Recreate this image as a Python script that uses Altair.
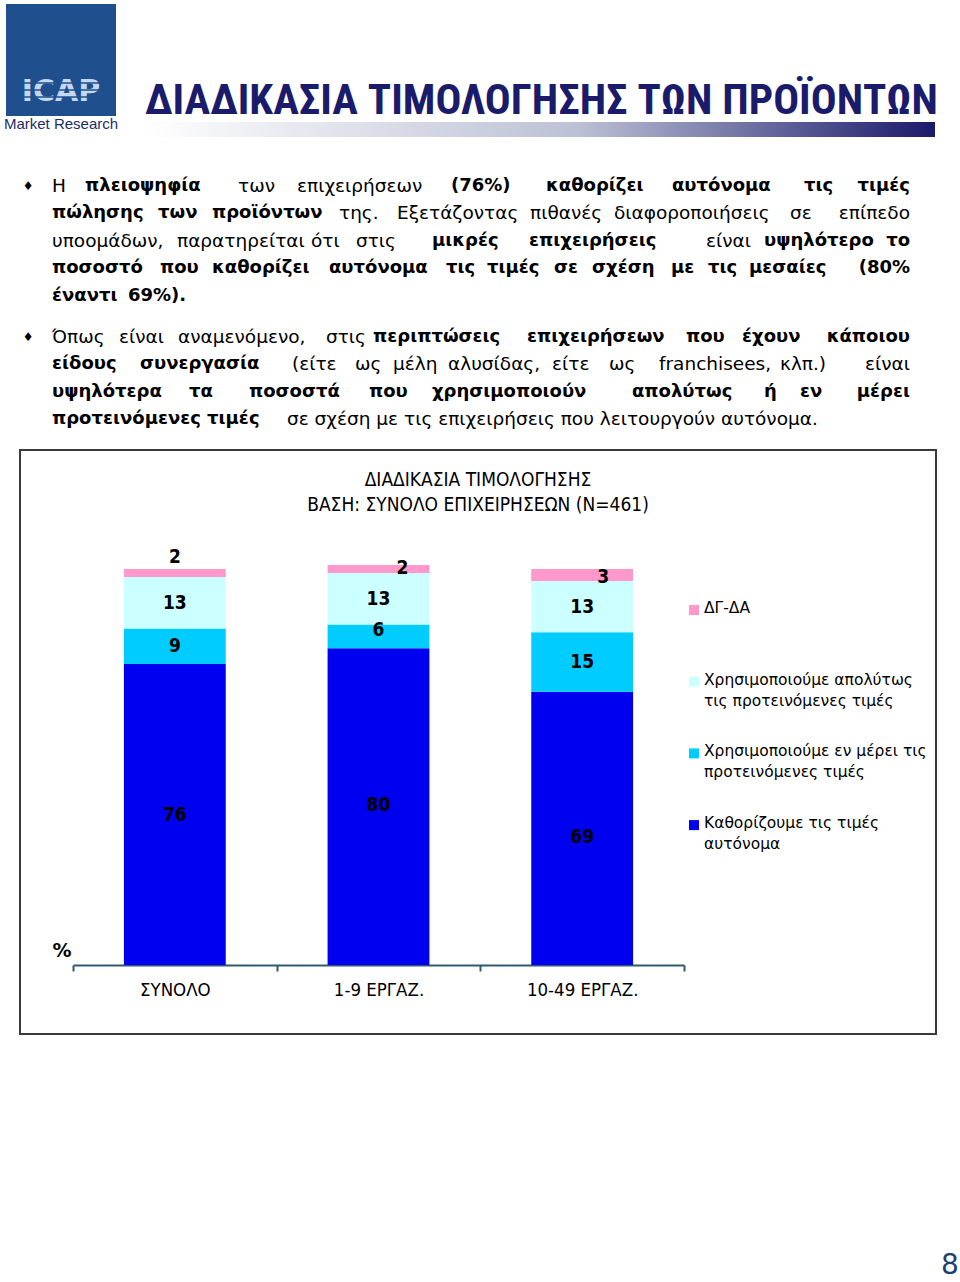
import altair as alt
import pandas as pd

# ---------------- chart data ----------------
categories = ["ΣΥΝΟΛΟ", "1-9 ΕΡΓΑΖ.", "10-49 ΕΡΓΑΖ."]
series = [
    "Καθορίζουμε τις τιμές αυτόνομα",
    "Χρησιμοποιούμε εν μέρει τις προτεινόμενες τιμές",
    "Χρησιμοποιούμε απολύτως τις προτεινόμενες τιμές",
    "ΔΓ-ΔΑ",
]
autonomous = [76, 80, 69]
partial = [9, 6, 15]
absolute = [13, 13, 13]
dk_na = [2, 2, 3]
colors = ["#0000F0", "#00CCFF", "#CCFFFF", "#FF99CC"]
legend_labels = [
    "ΔΓ-ΔΑ",
    "Χρησιμοποιούμε απολύτως|τις προτεινόμενες τιμές",
    "Χρησιμοποιούμε εν μέρει τις|προτεινόμενες τιμές",
    "Καθορίζουμε τις τιμές|αυτόνομα",
]
legend_series = [series[3], series[2], series[1], series[0]]

# ---------------- page text ----------------
page_title = "ΔΙΑΔΙΚΑΣΙΑ ΤΙΜΟΛΟΓΗΣΗΣ ΤΩΝ ΠΡΟΪΟΝΤΩΝ"
chart_title_1 = "ΔΙΑΔΙΚΑΣΙΑ ΤΙΜΟΛΟΓΗΣΗΣ"
chart_title_2 = "ΒΑΣΗ: ΣΥΝΟΛΟ ΕΠΙΧΕΙΡΗΣΕΩΝ (N=461)"

# words: (text, bold, left x or None = right-aligned at the text margin)
para_lines = [
    (186, [("Η", 0, 52), ("πλειοψηφία", 1, 85), ("των", 0, 238), ("επιχειρήσεων", 0, 297),
           ("(76%)", 1, 451), ("καθορίζει", 1, 546), ("αυτόνομα", 1, 672), ("τις", 1, 804), ("τιμές", 1, None)]),
    (213, [("πώλησης", 1, 52), ("των", 1, 158), ("προϊόντων", 1, 212), ("της.", 0, 339),
           ("Εξετάζοντας", 0, 397), ("πιθανές", 0, 530), ("διαφοροποιήσεις", 0, 614), ("σε", 0, 790),
           ("επίπεδο", 0, None)]),
    (241, [("υποομάδων,", 0, 52), ("παρατηρείται", 0, 177), ("ότι", 0, 311), ("στις", 0, 356),
           ("μικρές", 1, 432), ("επιχειρήσεις", 1, 529), ("είναι", 0, 706), ("υψηλότερο", 1, 764),
           ("το", 1, None)]),
    (268, [("ποσοστό", 1, 52), ("που", 1, 160), ("καθορίζει", 1, 212), ("αυτόνομα", 1, 329),
           ("τις", 1, 446), ("τιμές", 1, 487), ("σε", 1, 554), ("σχέση", 1, 592), ("με", 1, 671),
           ("τις", 1, 708), ("μεσαίες", 1, 749), ("(80%", 1, None)]),
    (296, [("έναντι", 1, 52), ("69%).", 1, 128)]),
    (337, [("Όπως", 0, 52), ("είναι", 0, 119), ("αναμενόμενο,", 0, 178), ("στις", 0, 326),
           ("περιπτώσεις", 1, 373), ("επιχειρήσεων", 1, 527), ("που", 1, 686), ("έχουν", 1, 742),
           ("κάποιου", 1, None)]),
    (364, [("είδους", 1, 52), ("συνεργασία", 1, 140), ("(είτε", 0, 292), ("ως", 0, 355),
           ("μέλη", 0, 393), ("αλυσίδας,", 0, 448), ("είτε", 0, 552), ("ως", 0, 609),
           ("franchisees,", 0, 659), ("κλπ.)", 0, 780), ("είναι", 0, None)]),
    (392, [("υψηλότερα", 1, 52), ("τα", 1, 189), ("ποσοστά", 1, 249), ("που", 1, 369),
           ("χρησιμοποιούν", 1, 432), ("απολύτως", 1, 632), ("ή", 1, 764), ("εν", 1, 800),
           ("μέρει", 1, None)]),
    (419, [("προτεινόμενες τιμές", 1, 52),
           ("σε σχέση με τις επιχειρήσεις που λειτουργούν αυτόνομα.", 0, 287)]),
]

COND = "DejaVu Sans Condensed"
SANS = "DejaVu Sans"
NAVY = "#1b1b6b"

# ---------------- data frames ----------------
rows = []
for i, c in enumerate(categories):
    for j, (s, vals) in enumerate(zip(series, [autonomous, partial, absolute, dk_na])):
        rows.append({"category": c, "series": s, "value": vals[i], "order": j})
df = pd.DataFrame(rows)

words = []
for y, ws in para_lines:
    for text, bold, x in ws:
        words.append({"w": text, "bold": bold, "x": 910 if x is None else x, "y": y,
                      "right": 1 if x is None else 0})
wdf = pd.DataFrame(words)

leg_df = pd.DataFrame({"series": legend_series, "label": legend_labels, "rank": list(range(4))})
one = pd.DataFrame({"k": [0]})

color_scale = alt.Scale(domain=series, range=colors)
x_scale = alt.Scale(domain=categories, range=[73, 684], paddingInner=0.5, paddingOuter=0.25)
y_scale = alt.Scale(domain=[0, 100], range=[965, 569])


def txt(text, x, y, **kw):
    return alt.Chart(one).mark_text(text=text, **kw).encode(x=alt.value(x), y=alt.value(y))


layers = []

# header: logo, title, gradient bar
layers.append(alt.Chart(one).mark_rect(color="#1f4f8c").encode(
    x=alt.value(6), x2=alt.value(116), y=alt.value(4), y2=alt.value(116)))
layers.append(txt("ICAP", 61, 92, font=SANS, fontSize=30, fontWeight="bold", color="#c4d8f2"))
for yy in [83, 90, 97]:
    layers.append(alt.Chart(one).mark_rule(color="#1f4f8c", strokeWidth=1.5).encode(
        x=alt.value(10), x2=alt.value(112), y=alt.value(yy)))
layers.append(txt("Market Research", 61, 124, font="Liberation Sans", fontSize=15, color="#1a2f6b"))
layers.append(txt(page_title, 145, 101, align="left", font="Roboto Condensed", fontSize=43,
                  fontWeight="bold", color=NAVY))
layers.append(alt.Chart(one).mark_rect(color=alt.Gradient(
    gradient="linear",
    stops=[alt.GradientStop(color="#ffffff", offset=0), alt.GradientStop(color="#bcc0d4", offset=0.55),
           alt.GradientStop(color="#1a1a6b", offset=1)],
    x1=0, x2=1, y1=0, y2=0)).encode(x=alt.value(145), x2=alt.value(935), y=alt.value(122), y2=alt.value(137)))

# bullets + paragraph
layers.append(txt("♦", 28, 186, font=SANS, fontSize=12, color="#000"))
layers.append(txt("♦", 28, 337, font=SANS, fontSize=12, color="#000"))
for bold in [0, 1]:
    for right in [0, 1]:
        layers.append(alt.Chart(wdf).transform_filter(
            f"datum.bold == {bold} && datum.right == {right}").mark_text(
            align="right" if right else "left", baseline="middle", font=SANS,
            fontSize=18 if bold else 18.5,
            fontWeight="bold" if bold else "normal", color="#000").encode(
            x=alt.X("x:Q", scale=None), y=alt.Y("y:Q", scale=None), text="w:N"))

# chart frame and titles
layers.append(alt.Chart(one).mark_rect(fillOpacity=0, stroke="#3a3a3a", strokeWidth=2).encode(
    x=alt.value(20), x2=alt.value(936), y=alt.value(450), y2=alt.value(1034)))
layers.append(txt(chart_title_1, 478, 480, font=COND, fontSize=19, color="#000"))
layers.append(txt(chart_title_2, 478, 505, font=COND, fontSize=19, color="#000"))

# stacked bars
layers.append(alt.Chart(df).mark_bar().encode(
    x=alt.X("category:N", sort=categories, scale=x_scale, axis=None),
    y=alt.Y("value:Q", stack="zero", scale=y_scale, axis=None),
    color=alt.Color("series:N", scale=color_scale, legend=None),
    order=alt.Order("order:Q", sort="ascending"),
))

# category axis (ticks on category boundaries)
layers.append(alt.Chart(pd.DataFrame({"category": categories})).mark_point(opacity=0).encode(
    x=alt.X("category:N", sort=categories,
            scale=alt.Scale(domain=categories, range=[73, 684], paddingInner=0, paddingOuter=0),
            axis=alt.Axis(orient="bottom", offset=-317, title=None, domainColor="#2e5a6e", domainWidth=2,
                          tickColor="#2e5a6e", tickWidth=2, tickSize=6, tickBand="extent",
                          labelFont=COND, labelFontSize=18.5, labelColor="#000", labelPadding=9,
                          labelAngle=0, labelOverlap=False, grid=False)),
    y=alt.value(965)))

layers.append(txt("%", 62, 951, font=SANS, fontSize=19, fontWeight="bold", color="#000"))

# value labels
lbl_base = alt.Chart(df).transform_stack(
    stack="value", groupby=["category"], as_=["y0", "y1"], sort=[alt.SortField("order", "ascending")]
).transform_calculate(mid="(datum.y0 + datum.y1) / 2")

special = {
    (0, 3): (0, -16), (1, 3): (24, -1), (2, 3): (21, 2),
    (2, 0): (0, 9), (1, 1): (0, -6), (1, 0): (0, -2),
}
cond_other = " && ".join(
    f"!(datum.category == '{categories[c]}' && datum.order == {o})" for (c, o) in special)
label_enc = dict(
    x=alt.X("category:N", sort=categories, scale=x_scale, axis=None),
    y=alt.Y("mid:Q", scale=y_scale, axis=None),
    text="value:Q",
)
layers.append(lbl_base.transform_filter(cond_other).mark_text(
    font=COND, fontSize=19, fontWeight="bold", color="#000", baseline="middle").encode(**label_enc))
for (c, o), (dx, dy) in special.items():
    layers.append(lbl_base.transform_filter(
        f"datum.category == '{categories[c]}' && datum.order == {o}").mark_text(
        font=COND, fontSize=19, fontWeight="bold", color="#000", baseline="middle", dx=dx, dy=dy
    ).encode(**label_enc))

# legend (drawn with the same colour scale)
leg = alt.Chart(leg_df).transform_calculate(ly="610 + datum.rank * 71.7")
layers.append(leg.mark_square(size=100, opacity=1, filled=True).encode(
    x=alt.value(694), y=alt.Y("ly:Q", scale=None),
    color=alt.Color("series:N", scale=color_scale, legend=None)))
layers.append(leg.transform_calculate(lines="split(datum.label, '|')", ty="datum.ly - 9").mark_text(
    align="left", baseline="top", font=SANS, fontSize=15.5, lineHeight=21, color="#000").encode(
    x=alt.value(704), y=alt.Y("ty:Q", scale=None), text="lines:N"))

# page number
layers.append(txt("8", 950, 1266, font=SANS, fontSize=28, color="#1f3f6f"))

chart = alt.layer(*layers).resolve_scale(x="independent", y="independent").properties(
    width=960, height=1282, autosize=alt.AutoSizeParams(type="none"), padding=0
).configure_view(stroke=None)

chart.save("out.html", embed_options={"renderer": "svg", "actions": False})
